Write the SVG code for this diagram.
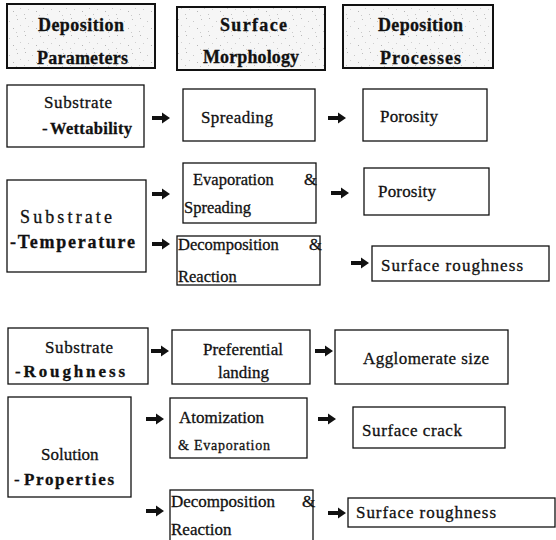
<svg xmlns="http://www.w3.org/2000/svg" xmlns:xlink="http://www.w3.org/1999/xlink" width="556" height="540" viewBox="0 0 556 540" font-family="'Liberation Serif', 'Times New Roman', serif">
<style>
text{font-family:'Liberation Serif','Times New Roman',Times,serif;fill:#111;stroke:#111;stroke-width:0.3;font-size:17px}
.h{font-weight:bold;font-size:18px}
.b{font-weight:bold}
.m{font-size:16.5px}
.s{font-size:14px}
.box{fill:#fff;stroke:#111;stroke-width:1.3}
.hbox{fill:url(#spk);stroke:#111;stroke-width:2}
.arr{fill:#111}
</style>
<defs>
<pattern id="spk" width="23" height="17" patternUnits="userSpaceOnUse">
<rect width="23" height="17" fill="#f6f6f6"/>
<rect x="2" y="1" width="1" height="1" fill="#b8b8b8"/>
<rect x="9" y="4" width="1" height="1" fill="#c8c8c8"/>
<rect x="17" y="2" width="1" height="1" fill="#bdbdbd"/>
<rect x="5" y="9" width="1" height="1" fill="#cfcfcf"/>
<rect x="13" y="11" width="1" height="1" fill="#b5b5b5"/>
<rect x="20" y="8" width="1" height="1" fill="#d0d0d0"/>
<rect x="1" y="14" width="1" height="1" fill="#c4c4c4"/>
<rect x="16" y="15" width="1" height="1" fill="#cacaca"/>
</pattern>
<path id="a" d="M0,-1.9 H10 V-5.4 L18,0 L10,5.4 V1.9 H0 Z"/>
</defs>

<g id="hdr-params">
<rect class="hbox" x="7" y="4" width="148" height="64"/>
<text class="h" x="38" y="31" textLength="86">Deposition</text>
<text class="h" x="37" y="64" textLength="91">Parameters</text>
</g>
<g id="hdr-morph">
<rect class="hbox" x="177" y="7" width="148" height="63"/>
<text class="h" x="220" y="31" textLength="67">Surface</text>
<text class="h" x="203" y="63" textLength="96">Morphology</text>
</g>
<g id="hdr-proc">
<rect class="hbox" x="343" y="5" width="150" height="63"/>
<text class="h" x="378" y="31" textLength="85">Deposition</text>
<text class="h" x="380" y="64" textLength="81">Processes</text>
</g>

<g id="wett">
<rect class="box" x="7" y="85" width="137" height="62"/>
<text x="44" y="108" textLength="68">Substrate</text>
<text x="42" y="134">-</text>
<text class="b" x="50" y="134" textLength="82" style="font-size:16.5px">Wettability</text>
</g>
<g id="spread1">
<rect class="box" x="183" y="89" width="132" height="52"/>
<text x="201" y="123" textLength="72">Spreading</text>
</g>
<g id="poro1">
<rect class="box" x="363" y="89" width="124" height="52"/>
<text x="380" y="122" textLength="58">Porosity</text>
</g>

<g id="temp">
<rect class="box" x="7" y="180" width="139" height="92"/>
<text x="20" y="223" textLength="92" style="font-size:18px">Substrate</text>
<text class="b" x="10" y="248" textLength="125" style="font-size:18px">-Temperature</text>
</g>
<g id="evap">
<rect class="box" x="183" y="163" width="133" height="60"/>
<text class="m" x="193" y="185">Evaporation</text>
<text class="m" x="304" y="185">&amp;</text>
<text class="m" x="184" y="213">Spreading</text>
</g>
<g id="poro2">
<rect class="box" x="364" y="168" width="125" height="47"/>
<text x="378" y="197" textLength="58">Porosity</text>
</g>
<g id="decomp1">
<rect class="box" x="177" y="236" width="143" height="49"/>
<text class="m" x="178" y="250">Decomposition</text>
<text class="m" x="309" y="250">&amp;</text>
<text class="m" x="178" y="282">Reaction</text>
</g>
<g id="rough1">
<rect class="box" x="372" y="246" width="177" height="35"/>
<text x="381" y="271" textLength="142">Surface roughness</text>
</g>

<g id="subrough">
<rect class="box" x="8" y="328" width="140" height="56"/>
<text x="45" y="353" textLength="68">Substrate</text>
<text class="b" x="15" y="377" textLength="110">-Roughness</text>
</g>
<g id="pref">
<rect class="box" x="172" y="330" width="138" height="54"/>
<text x="203" y="355" textLength="80">Preferential</text>
<text x="218" y="378">landing</text>
</g>
<g id="agglo">
<rect class="box" x="335" y="330" width="173" height="54"/>
<text x="363" y="364" textLength="126">Agglomerate size</text>
</g>

<g id="solution">
<rect class="box" x="8" y="397" width="123" height="100"/>
<text x="41" y="460">Solution</text>
<text x="14" y="485">-</text>
<text class="b" x="24" y="485" textLength="90">Properties</text>
</g>
<g id="atom">
<rect class="box" x="170" y="398" width="137" height="60"/>
<text x="179" y="423">Atomization</text>
<text class="s" x="178" y="450" textLength="92">&amp; Evaporation</text>
</g>
<g id="crack">
<rect class="box" x="353" y="407" width="152" height="41"/>
<text x="362" y="436" textLength="100">Surface crack</text>
</g>
<g id="decomp2">
<rect class="box" x="170" y="490" width="143" height="55"/>
<text x="171" y="507">Decomposition</text>
<text x="302" y="507">&amp;</text>
<text x="171" y="535">Reaction</text>
</g>
<g id="rough2">
<rect class="box" x="348" y="498" width="207" height="29"/>
<text x="356" y="518" textLength="140">Surface roughness</text>
</g>

<g id="connectors" class="arr">
<use xlink:href="#a" x="152" y="118"/>
<use xlink:href="#a" x="328" y="118"/>
<use xlink:href="#a" x="152" y="194"/>
<use xlink:href="#a" x="331" y="193"/>
<use xlink:href="#a" x="152" y="244"/>
<use xlink:href="#a" x="351" y="263"/>
<use xlink:href="#a" x="151" y="351"/>
<use xlink:href="#a" x="315" y="351"/>
<use xlink:href="#a" x="146" y="419"/>
<use xlink:href="#a" x="318" y="419"/>
<use xlink:href="#a" x="146" y="511"/>
<use xlink:href="#a" x="328" y="513"/>
</g>
</svg>
